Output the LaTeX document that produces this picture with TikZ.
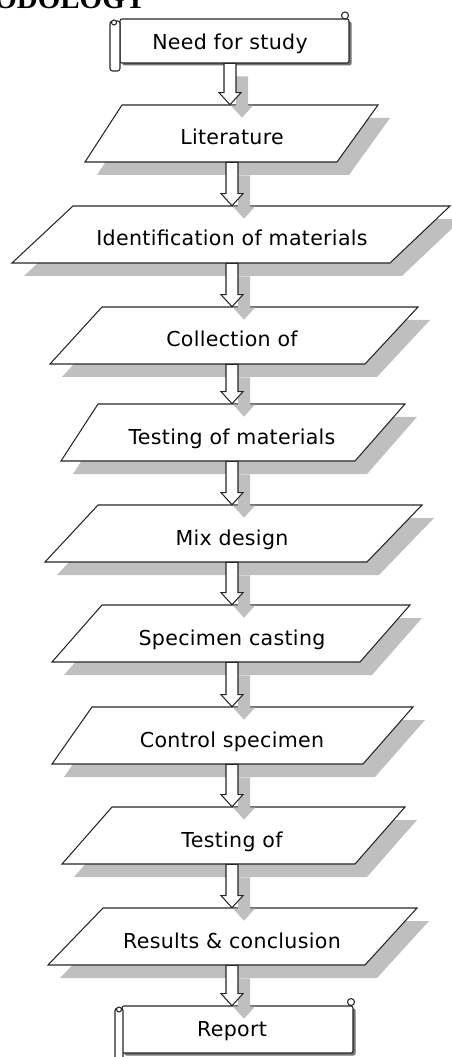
\documentclass[tikz,border=0pt]{standalone}
\usepackage{fontspec}
\newfontfamily\boxfont[LetterSpace=1.5]{DejaVu Sans}
\newfontfamily\headfont{Liberation Serif}
\usetikzlibrary{calc,shadows}

\begin{document}
\begin{tikzpicture}[x=0.02cm,y=-0.02cm,
    outline/.style={draw=black!85,line width=0.6pt,fill=white},
    pgram/.style={outline,drop shadow={shadow xshift=0.24cm,shadow yshift=-0.26cm,fill=black!25,opacity=1}},
    scrollbody/.style={outline,rounded corners=0.04cm,drop shadow={shadow xshift=0.05cm,shadow yshift=-0.05cm,fill=black!55,opacity=1}},
    lbl/.style={inner sep=0pt,font=\boxfont\fontsize{11.7}{13}\selectfont,text height=0.8cm,text depth=0.34cm},
    blockarr/.style={outline,drop shadow={shadow xshift=0.24cm,shadow yshift=-0.26cm,fill=black!25,opacity=1},
      to path={let \p1=(\tikztostart), \p2=(\tikztotarget) in
        (\x1-0.12cm,\y1) -- (\x1-0.12cm,\y2+0.24cm) -- (\x1-0.22cm,\y2+0.24cm) -- (\x1,\y2)
        -- (\x1+0.22cm,\y2+0.24cm) -- (\x1+0.12cm,\y2+0.24cm) -- (\x1+0.12cm,\y1) -- cycle}}]
    \useasboundingbox (0,0) rectangle (452,1057);
    \clip (0,0) rectangle (452,1057);

    % Heading, cut off at the top
    \node[anchor=base west,inner sep=0pt,font=\headfont\bfseries\fontsize{16.5}{16}\selectfont] (head) at (-6,9) {ODOLOGY};

    % The scroll at the top
    \draw[scrollbody] (120,19) rectangle (349,63);
    \draw[outline] (345,15.5) circle (0.07cm);
    \draw[outline,rounded corners=0.05cm] (110,21) rectangle (120,71);
    \draw[outline] (114,22.5) circle (0.05cm);
    \node[lbl,text height=0.6cm,text depth=0.26cm] (need) at (230,41.5) {Need for study};

    % The parallelograms
    \draw[pgram] (122,105) -- (378,105) -- (337,162) -- (85,162) -- cycle;
    \node[lbl] (lit) at (232,133.5) {Literature};
    \draw[pgram] (73,206) -- (450,206) -- (390,263) -- (12,263) -- cycle;
    \node[lbl] (ident) at (232,234.5) {Identification of materials};
    \draw[pgram] (102,307) -- (418,307) -- (365,364) -- (50,364) -- cycle;
    \node[lbl] (coll) at (232,335.5) {Collection of};
    \draw[pgram] (98,404) -- (405,404) -- (355,461) -- (61,461) -- cycle;
    \node[lbl] (testmat) at (232,432.5) {Testing of materials};
    \draw[pgram] (98,505) -- (422,505) -- (367,562) -- (45,562) -- cycle;
    \node[lbl] (mix) at (232,533.5) {Mix design};
    \draw[pgram] (102,605) -- (410,605) -- (360,662) -- (52,662) -- cycle;
    \node[lbl] (spec) at (232,633.5) {Specimen casting};
    \draw[pgram] (92,707) -- (413,707) -- (363,764) -- (52,764) -- cycle;
    \node[lbl] (ctrl) at (232,735.5) {Control specimen};
    \draw[pgram] (112,807) -- (405,807) -- (355,864) -- (62,864) -- cycle;
    \node[lbl] (testof) at (232,835.5) {Testing of};
    \draw[pgram] (103,908) -- (417,908) -- (365,965) -- (48,965) -- cycle;
    \node[lbl] (res) at (232,936.5) {Results \& conclusion};

    % The scroll at the bottom
    \draw[scrollbody] (122,1006) rectangle (353,1053);
    \draw[outline] (351,1002) circle (0.07cm);
    \draw[outline,rounded corners=0.05cm] (115,1008) rectangle (123,1065);
    \draw[outline] (119,1009.5) circle (0.05cm);
    \node[lbl,text height=0.6cm,text depth=0.34cm] (report) at (232,1029.5) {Report};

    % The arrows!
    \draw[blockarr] (need.south) to (lit.north);
    \draw[blockarr] (lit.south) to (ident.north);
    \draw[blockarr] (ident.south) to (coll.north);
    \draw[blockarr] (coll.south) to (testmat.north);
    \draw[blockarr] (testmat.south) to (mix.north);
    \draw[blockarr] (mix.south) to (spec.north);
    \draw[blockarr] (spec.south) to (ctrl.north);
    \draw[blockarr] (ctrl.south) to (testof.north);
    \draw[blockarr] (testof.south) to (res.north);
    \draw[blockarr] (res.south) to (report.north);
\end{tikzpicture}
\end{document}
